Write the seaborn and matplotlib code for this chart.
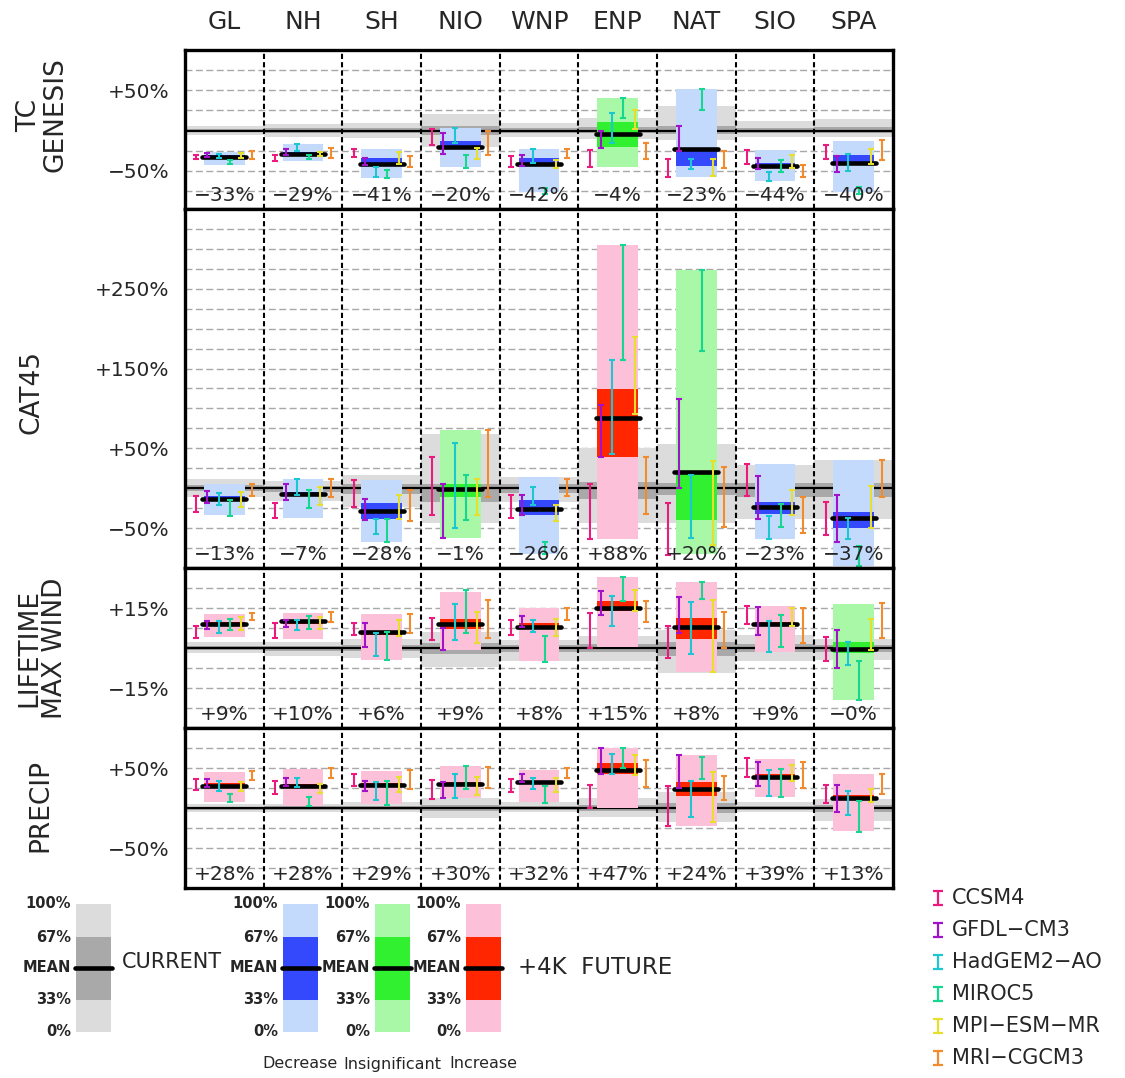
import numpy as np
import matplotlib
matplotlib.use("Agg")
import matplotlib.pyplot as plt
import seaborn as sns
from matplotlib import font_manager
from matplotlib.ticker import MultipleLocator, FixedLocator

regions = ["GL", "NH", "SH", "NIO", "WNP", "ENP", "NAT", "SIO", "SPA"]
models = ["CCSM4", "GFDL\u2212CM3", "HadGEM2\u2212AO", "MIROC5", "MPI\u2212ESM\u2212MR", "MRI\u2212CGCM3"]

# ---- TC genesis: current (lo, 33%, 67%, hi), future (lo, 33%, 67%, hi), ensemble mean, significance
gen_current = [[-5, -8, -9, -21, -8, -10, -12, -8, -8],
               [-2, -3, -3, -6, -3, -3, -4, -3, -3],
               [2, 3, 3, 6, 3, 4, 6, 3, 4],
               [6, 8, 9, 20, 9, 16, 30, 12, 14]]
gen_future = [[-42.5, -37.5, -59, -45, -77, -45, -58, -63, -77],
              [-35, -31, -43, -21.6, -44, -20, -44, -47, -42],
              [-31, -27, -34, -12.5, -34, 10, -22, -40, -31],
              [-27, -17, -23, 3, -23, 40, 51, -24, -12.5]]
gen_mean = [-33, -29, -41, -20, -42, -4, -23, -44, -40]
gen_sig = list("DDDDDIDDD")
gen_models = [
    [(-36, -30), (-38, -30), (-33, -23), (-17.5, 2), (-45, -32), (-45, -24), (-58, -35), (-41, -24), (-35, -17.5)],
    [(-33, -28), (-30, -23), (-43, -34), (-29, -3), (-44, -31), (-22, -1), (-25, 6), (-48, -34), (-52, -32)],
    [(-34, -29), (-25, -17), (-57.5, -45), (-16, 3), (-40, -23), (-15, 22), (-48, -35), (-63, -52), (-50, -29)],
    [(-42, -37), (-36, -30), (-59.6, -49), (-46, -30), (-79, -71), (15, 40), (25, 51), (-52, -36.5), (-79, -70)],
    [(-34, -28), (-32, -27), (-41, -27), (-35, -22), (-46, -37), (2, 25), (-56, -35), (-46, -31), (-41, -23)],
    [(-35, -25), (-34, -22), (-45, -32), (-31, -1), (-34, -23), (-35, -15), (-47, -26), (-57.5, -42.5), (-36.7, -11.7)],
]

# ---- CAT45
cat_current = [[-11.6, -16, -23, -44, -17, -44, -44, -38, -39],
               [-4, -5, -7, -17, -6, -13, -9, -11.6, -11],
               [4, 3, 5, 5, 5, 8, 6, 6.6, 6],
               [11, 9, 16, 67.5, 14, 50, 56, 29, 36]]
cat_future = [[-34, -37, -67, -62, -82, -64, -82, -64, -98],
              [-16, -10, -38, -11, -33, 39, -40, -32.5, -50],
              [-10, -5, -18, 5, -15, 124, 20, -17, -30],
              [5, 11, 10, 72.5, 14, 305, 273, 30, 36]]
cat_mean = [-13, -7, -28, -1, -26, 88, 20, -23, -37]
cat_sig = list("DDDIDUIDD")
cat_models = [
    [(-29.6, -10), (-37, -18), (-24, 10), (-34, 39), (-37, -9), (-64, 5), (-84, -18), (-10, 30), (-59, -17)],
    [(-19, -3), (-14.6, 5), (-40, -14), (-62, 5), (-34, -9), (39, 104), (0, 112), (-38, 15), (-68, -9)],
    [(-21, -6), (-8, 11), (-57.5, -39), (-50, 57), (-21, 2), (42.5, 161), (-63, 16), (-64, -35), (-64, -37)],
    [(-35, -15), (-25, -2), (-67, -39), (-40, 16), (-82, -68), (161, 305), (172.5, 273), (-49, -20), (-98, -72.5)],
    [(-23, -5), (-21, 2), (-39, -9), (-34, 11), (-41, -21), (93, 189), (-71, 34), (-34, -2), (-50, 2.5)],
    [(-10, 5), (-11.6, 12), (-41, -2), (-11.6, 72.5), (-10, 12), (-32.5, 39), (-49, 26), (-56, -11.6), (-11.6, 36)],
]

# ---- lifetime max wind
wind_current = [[-2, -3, -3.6, -7, -5, -5, -9.5, -5, -4.5],
                [-0.7, -1, -1.2, -2.3, -1.6, -1.6, -3, -1.6, -1.5],
                [0.8, 0.8, 1.1, 2, 1, 1.5, 2.2, 1.6, 1.1],
                [2.4, 2.4, 3.4, 6.1, 3, 4.6, 6.7, 5, 3.4]]
wind_future = [[4.2, 3.4, -4.5, -0.8, -5, 0.5, -8.9, -1.4, -19.5],
               [8.3, 9.1, 5, 7, 7.7, 13.9, 3.4, 8.2, -2],
               [9.6, 10.3, 6.3, 11, 9.2, 17.6, 11.4, 9.8, 2.1],
               [12.6, 13, 12.6, 21, 14.9, 26.7, 24.9, 15.9, 16.4]]
wind_mean = [9, 10, 6, 9, 8, 15, 8, 9, -0.4]
wind_sig = list("UUUUUUUUI")
wind_models = [
    [(3.9, 8.4), (3.6, 9.2), (5, 9.2), (3, 11.4), (5, 10.4), (0.1, 13), (-3.9, 8.4), (8.9, 15.9), (-4.9, 4.2)],
    [(7, 10), (8, 10.4), (0.5, 9.2), (-0.8, 7.6), (8, 12), (12.4, 21.4), (5.5, 19.2), (5, 15.5), (-7.4, 6.7)],
    [(5.5, 10), (6.7, 10.6), (-2.9, 5.5), (3, 16.4), (6, 10.6), (8.4, 19.6), (-2.4, 17.4), (-1.6, 10), (-6.4, 2.4)],
    [(6.7, 11), (7, 12), (-4.5, 6), (5.5, 21.7), (-5.4, 4.6), (17.6, 26.7), (18.4, 24.9), (0.5, 12.4), (-19.5, -4.9)],
    [(6.7, 11.6), (7, 11.8), (4.6, 10.4), (1.8, 13.6), (4.6, 11), (13.9, 21.7), (-8.9, 18), (8.4, 15), (-0.75, 10.9)],
    [(10.5, 13), (9.6, 13.4), (5.5, 12.6), (3.9, 18), (10.5, 15), (9.6, 17.6), (-0.1, 13.4), (1.8, 14.9), (3.6, 16.7)],
]

# ---- precipitation
prec_current = [[-5.4, -5, -5, -12, -5, -11, -17, -5, -16],
                [-2, -2, -2, -4, -2, -4, -6, -2, -5],
                [1.5, 2, 3, 4, 3, 4, 6, 3, 4],
                [4.6, 5, 8, 13, 8, 12, 20, 8, 11]]
prec_future = [[8, 3, 4.6, 12, 7, 0.4, -23, 14, -29],
               [26, 26, 27, 27, 30, 43, 15, 36, 10],
               [31, 30, 31, 33, 34, 56, 32, 42, 16],
               [44.6, 49, 46, 53, 47.5, 75, 66, 61, 43]]
prec_mean = [28, 28, 29, 30, 32, 47, 24, 39, 13]
prec_sig = list("UUUUUUUUU")
prec_models = [
    [(22.5, 36), (17, 34), (27, 43), (11, 35), (19.6, 36), (0, 29), (-23, 28), (39, 62), (6, 29)],
    [(26, 36), (27, 37), (21.6, 34), (13, 32), (32, 42), (43, 74.6), (25, 66), (28, 58), (-5.4, 29)],
    [(21.6, 34), (26, 37), (10, 32), (12, 43), (24, 38), (42, 68), (-11, 34), (15.4, 47.5), (-9, 21)],
    [(8, 18), (3, 14), (4, 34), (24, 53), (6, 28), (49.6, 75), (36, 64), (14, 49), (-29.6, 9)],
    [(21.6, 33), (19, 30), (20, 39), (16, 39), (20, 38), (41, 66), (-17, 44.6), (34, 54), (7, 24)],
    [(35, 46), (38, 49.6), (24, 47.5), (24.6, 51.6), (38, 50), (26.6, 60), (10, 40), (24.6, 57), (18, 43)],
]

sns.set_style("white")
plt.rcParams["font.family"] = ["DejaVu Sans"]
names = {f.name for f in font_manager.fontManager.ttflist}
NARROW = "Liberation Sans Narrow" if "Liberation Sans Narrow" in names else "DejaVu Sans"

model_colors = sns.color_palette(["#ea1a7f", "#a112c9", "#1cc7d1", "#17d68f", "#e6df2e", "#f28a2e"])
GREY = ("#dcdcdc", "#a9a9a9")
FUT = {"D": ("#c4dafc", "#3448fc"), "I": ("#a8f8a8", "#30f030"), "U": ("#fcc0d8", "#ff2600")}

W, H = 1125, 1078
fig = plt.figure(figsize=(W / 100, H / 100), dpi=100)


def rect(top, bottom):
    return [185 / W, 1 - bottom / H, (893 - 185) / W, (bottom - top) / H]


def pct(v, fmt="+d"):
    return (format(v, fmt) + "%").replace("-", "\u2212")


def draw_panel(ax, current, future, mean, sig, ranges, ylim, step, ticks):
    x = np.arange(len(regions))
    lo, q33, q67, hi = [np.array(v, float) for v in current]
    ax.bar(x, hi - lo, bottom=lo, width=1, align="edge", color=GREY[0], lw=0, zorder=1)
    ax.bar(x, q67 - q33, bottom=q33, width=1, align="edge", color=GREY[1], lw=0, zorder=1.1)
    ax.axhline(0, color="k", lw=1.6, zorder=1.5)
    flo, f33, f67, fhi = [np.array(v, float) for v in future]
    ax.bar(x + 0.24, fhi - flo, bottom=flo, width=0.52, align="edge",
           color=[FUT[s][0] for s in sig], lw=0, zorder=2)
    ax.bar(x + 0.24, f67 - f33, bottom=f33, width=0.52, align="edge",
           color=[FUT[s][1] for s in sig], lw=0, zorder=2.1)
    for d in range(1, len(regions)):
        ax.axvline(d, color="k", lw=1.5, ls=(0, (2.5, 1.5)), zorder=2.5)
    for i, m in enumerate(mean):
        ax.plot([i + 0.22, i + 0.78], [m, m], color="k", lw=3.3,
                solid_capstyle="round", zorder=3)
        ax.annotate(pct(m, "+.0f"), xy=(i + 0.5, 0), xycoords=("data", "axes fraction"),
                    xytext=(0, 10), textcoords="offset points", ha="center", va="center",
                    fontsize=14.5, zorder=5)
    for k, rng in enumerate(ranges):
        r = np.array(rng, float)
        ax.errorbar(x + (k + 1) / 7, r.mean(axis=1), yerr=(r[:, 1] - r[:, 0]) / 2,
                    fmt="none", ecolor=model_colors[k], elinewidth=1.5,
                    capsize=2.4, capthick=1.5, zorder=4)
    ax.set_xlim(0, len(regions))
    ax.set_ylim(*ylim)
    ax.set_xticks([])
    ax.yaxis.set_major_locator(FixedLocator(ticks))
    ax.yaxis.set_minor_locator(MultipleLocator(step))
    ax.set_yticklabels([pct(t) for t in ticks], fontsize=14.5)
    ax.tick_params(axis="y", which="both", length=0, pad=11)
    ax.grid(axis="y", which="both", color="#a8a8a8", ls=(0, (5, 2.5)), lw=1.0)
    ax.set_axisbelow(True)
    for s in ax.spines.values():
        s.set_linewidth(2.4)
        s.set_color("k")
        s.set_zorder(6)


panels = [
    ("TC\nGENESIS", gen_current, gen_future, gen_mean, gen_sig, gen_models, (-97.5, 100), 25, [50, -50], (50, 209), 42, 115),
    ("CAT45", cat_current, cat_future, cat_mean, cat_sig, cat_models, (-100, 350), 25, [250, 150, 50, -50], (209, 568), 32, 392),
    ("LIFETIME\nMAX WIND", wind_current, wind_future, wind_mean, wind_sig, wind_models, (-30, 30), 7.5, [15, -15], (568, 728), 42, 648),
    ("PRECIP", prec_current, prec_future, prec_mean, prec_sig, prec_models, (-100, 100), 25, [50, -50], (728, 888), 40, 806),
]

axes = []
for label, cur, fut, mean, sig, rng, ylim, step, ticks, (top, bot), lx, ly in panels:
    ax = fig.add_axes(rect(top, bot))
    draw_panel(ax, cur, fut, mean, sig, rng, ylim, step, ticks)
    fig.text(lx / W, 1 - ly / H, label, rotation=90, ha="center", va="center",
             multialignment="center", fontsize=19, family=NARROW, linespacing=1.0)
    axes.append(ax)

for i, reg in enumerate(regions):
    axes[0].annotate(reg, xy=(i + 0.5, 1), xycoords=("data", "axes fraction"),
                     xytext=(0, 20), textcoords="offset points", ha="center", va="center",
                     fontsize=18)

# ---- legends
lg = fig.add_axes([0, 0, 1, 1], zorder=-1)
lg.set_xlim(0, W)
lg.set_ylim(H, 0)
lg.axis("off")

levels = ["100%", "67%", "MEAN", "33%", "0%"]
level_y = [904, 937, 968, 1000, 1032]
swatches = [(76, GREY, None), (283, FUT["D"], "Decrease"),
            (375, FUT["I"], "Insignificant"), (466, FUT["U"], "Increase")]
for x0, (light, dark), name in swatches:
    lg.bar(x0, level_y[4] - level_y[0], bottom=level_y[0], width=35, align="edge", color=light, lw=0)
    lg.bar(x0, level_y[3] - level_y[1], bottom=level_y[1], width=35, align="edge", color=dark, lw=0)
    lg.plot([x0 - 1, x0 + 36], [level_y[2]] * 2, color="k", lw=3.3, solid_capstyle="round")
    for txt, yy in zip(levels, level_y):
        lg.text(x0 - 5, yy, txt, ha="right", va="center", fontsize=10.5,
                family=NARROW, weight="bold")
    if name:
        lg.text(x0 + 17.5, 1064, name, ha="center", va="center", fontsize=11.5, family=NARROW)

lg.text(122, 962, "CURRENT", ha="left", va="center", fontsize=15, family=NARROW)
lg.text(518, 968, "+4K  FUTURE", ha="left", va="center", fontsize=16.5, family=NARROW)

model_y = [898, 930, 962, 994, 1026, 1058]
for k, (name, yy) in enumerate(zip(models, model_y)):
    lg.errorbar([938], [yy], yerr=7, fmt="none", ecolor=model_colors[k],
                elinewidth=1.6, capsize=3.4, capthick=1.6)
    lg.text(952, yy, name, ha="left", va="center", fontsize=15)

fig.savefig("out.png", dpi=100)
